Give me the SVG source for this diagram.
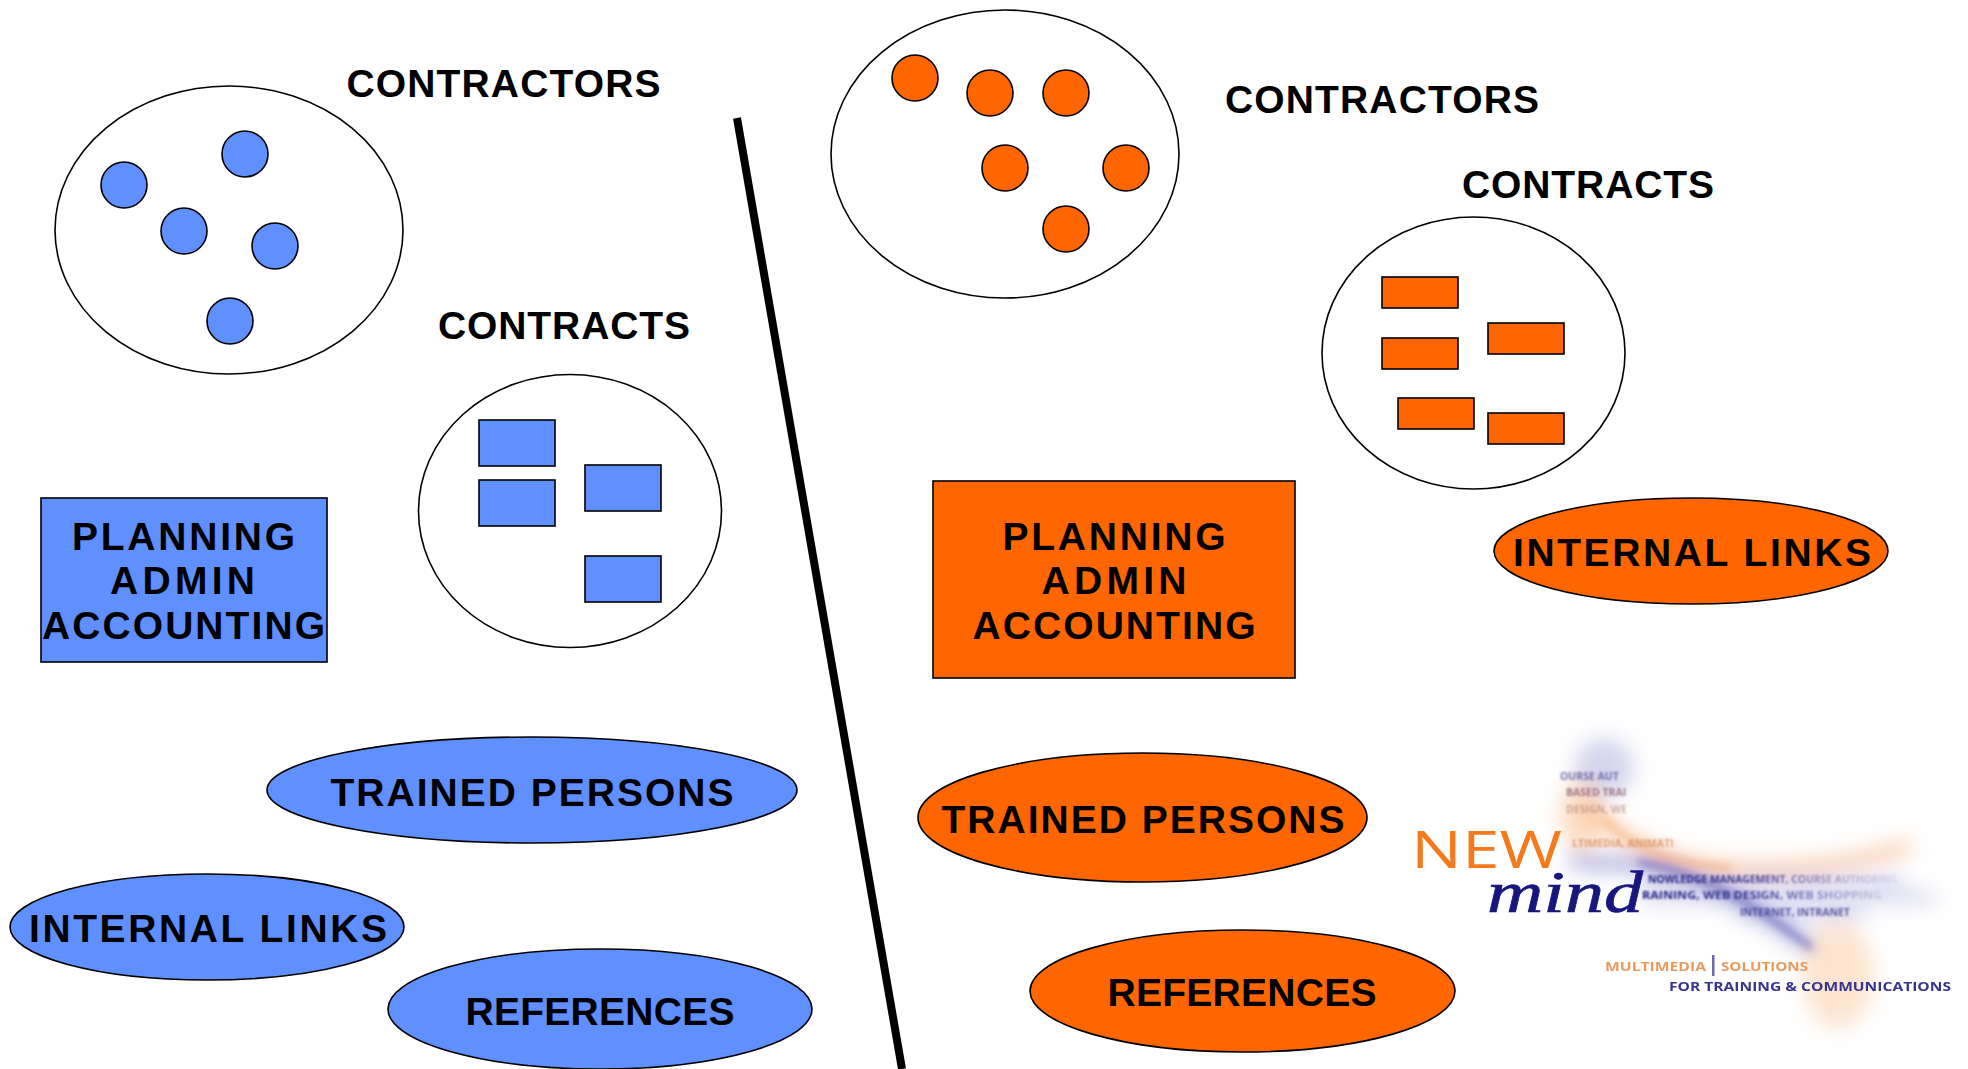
<svg xmlns="http://www.w3.org/2000/svg" width="1968" height="1069" viewBox="0 0 1968 1069">
<style>
.b{fill:#608fff;stroke:#000;stroke-width:1.6}
.o{fill:#ff6600;stroke:#000;stroke-width:1.6}
.w{fill:#fff;stroke:#000;stroke-width:1.6}
.t{font-family:"Liberation Sans",Arial,sans-serif;font-weight:700;font-size:39px;fill:#000;text-anchor:middle}
.bt{font-family:"Open Sans","Liberation Sans",sans-serif;font-weight:700;font-size:10.500px}
.lg{font-family:"Open Sans","Liberation Sans",sans-serif;font-weight:700;font-size:12.500px}
</style>
<defs>
<filter id="b2" x="-30%" y="-60%" width="160%" height="220%"><feGaussianBlur stdDeviation="10"/></filter>
<filter id="b3" x="-30%" y="-60%" width="160%" height="220%"><feGaussianBlur stdDeviation="4"/></filter>
<filter id="s" x="-10%" y="-30%" width="120%" height="160%"><feGaussianBlur stdDeviation="0.7"/></filter>
<filter id="s2" x="-10%" y="-30%" width="120%" height="160%"><feGaussianBlur stdDeviation="1"/></filter>
<linearGradient id="fadeH" gradientUnits="userSpaceOnUse" x1="1640" y1="0" x2="1900" y2="0"><stop offset="0" stop-color="#1c1c80"/><stop offset=".45" stop-color="#1c1c80" stop-opacity=".8"/><stop offset="1" stop-color="#6a6ab0" stop-opacity=".12"/></linearGradient>
</defs>
<rect width="1968" height="1069" fill="#fff"/>
<g id="connectors"><line x1="737" y1="118" x2="902" y2="1069" stroke="#000" stroke-width="8"/></g>

<g id="left-contractors">
<ellipse class="w" cx="229" cy="230" rx="174" ry="144"/>
<circle class="b" cx="124" cy="185" r="23"/><circle class="b" cx="245" cy="154" r="23"/><circle class="b" cx="184" cy="231" r="23"/><circle class="b" cx="275" cy="246" r="23"/><circle class="b" cx="230" cy="321" r="23"/>
<text class="t" x="503.500" y="97" textLength="314">CONTRACTORS</text>
</g>
<g id="left-contracts">
<ellipse class="w" cx="570" cy="511" rx="151.500" ry="136.500"/>
<rect class="b" x="479" y="420" width="76" height="46"/><rect class="b" x="479" y="480" width="76" height="46"/><rect class="b" x="585" y="465" width="76" height="46"/><rect class="b" x="585" y="556" width="76" height="46"/>
<text class="t" x="564" y="339" textLength="252">CONTRACTS</text>
</g>
<g id="left-planning">
<rect class="b" x="41" y="498" width="286" height="164"/>
<text class="t" x="183.500" y="550" textLength="223">PLANNING</text><text class="t" x="182.500" y="594" textLength="145">ADMIN</text><text class="t" x="183.500" y="639" textLength="283">ACCOUNTING</text>
</g>
<g id="left-trained"><ellipse class="b" cx="532" cy="790" rx="265" ry="53"/><text class="t" x="532" y="806" textLength="403">TRAINED PERSONS</text></g>
<g id="left-internal"><ellipse class="b" cx="207" cy="927" rx="197" ry="53"/><text class="t" x="208" y="942" textLength="358">INTERNAL LINKS</text></g>
<g id="left-references"><ellipse class="b" cx="600" cy="1009" rx="212" ry="60"/><text class="t" x="600" y="1025" textLength="269">REFERENCES</text></g>

<g id="right-contractors">
<ellipse class="w" cx="1005" cy="154" rx="174" ry="144"/>
<circle class="o" cx="915" cy="78" r="23"/><circle class="o" cx="990" cy="93" r="23"/><circle class="o" cx="1066" cy="93" r="23"/><circle class="o" cx="1005" cy="168" r="23"/><circle class="o" cx="1126" cy="168" r="23"/><circle class="o" cx="1066" cy="229" r="23"/>
<text class="t" x="1382" y="113" textLength="314">CONTRACTORS</text>
</g>
<g id="right-contracts">
<ellipse class="w" cx="1473.500" cy="353" rx="151.500" ry="136"/>
<rect class="o" x="1382" y="277" width="76" height="31"/><rect class="o" x="1382" y="338" width="76" height="31"/><rect class="o" x="1488" y="323" width="76" height="31"/><rect class="o" x="1398" y="398" width="76" height="31"/><rect class="o" x="1488" y="413" width="76" height="31"/>
<text class="t" x="1588" y="198" textLength="252">CONTRACTS</text>
</g>
<g id="right-planning">
<rect class="o" x="933" y="481" width="362" height="197"/>
<text class="t" x="1114" y="550" textLength="223">PLANNING</text><text class="t" x="1114" y="594" textLength="145">ADMIN</text><text class="t" x="1114" y="639" textLength="283">ACCOUNTING</text>
</g>
<g id="right-internal"><ellipse class="o" cx="1691" cy="551" rx="197" ry="53"/><text class="t" x="1692" y="566" textLength="358">INTERNAL LINKS</text></g>
<g id="right-trained"><ellipse class="o" cx="1142.500" cy="817.500" rx="224.500" ry="64.500"/><text class="t" x="1143" y="833" textLength="403">TRAINED PERSONS</text></g>
<g id="right-references"><ellipse class="o" cx="1242.500" cy="991" rx="212.500" ry="61"/><text class="t" x="1242" y="1006" textLength="269">REFERENCES</text></g>

<g id="logo">
<g filter="url(#b2)" fill="none" stroke-linecap="round">
<ellipse cx="1604" cy="768" rx="30" ry="30" fill="#9a9ad6" fill-opacity=".42" stroke="none"/>
<ellipse cx="1582" cy="815" rx="22" ry="36" fill="#f8b27a" fill-opacity=".45" stroke="none"/>
<path d="M1590 810C1625 840 1655 860 1725 868C1790 872 1850 865 1905 848" stroke="#f59a55" stroke-width="14" stroke-opacity=".5"/>
<path d="M1575 860C1610 868 1640 858 1665 870C1710 880 1750 905 1808 945" stroke="#6565c0" stroke-width="14" stroke-opacity=".55"/>
<path d="M1645 882H1900M1645 898H1930M1740 914H1860" stroke="#a5a5dc" stroke-width="12" stroke-opacity=".45"/>
<ellipse cx="1838" cy="975" rx="36" ry="54" fill="#f9bf90" fill-opacity=".42" stroke="none"/>
</g>
<g filter="url(#b3)" fill="none" stroke-linecap="round">
<path d="M1605 820C1630 845 1665 864 1730 868" stroke="#ef8a3c" stroke-width="4" stroke-opacity=".6"/>
<path d="M1640 862C1700 872 1755 905 1810 947" stroke="#4646ac" stroke-width="6" stroke-opacity=".6"/>
</g>
<g filter="url(#s)">
<text x="1411" y="868" font-family="'Open Sans','Liberation Sans',sans-serif" font-size="52" fill="#f47a1e" textLength="151" lengthAdjust="spacingAndGlyphs">NEW</text>
<text x="1487" y="912" font-family="'Liberation Serif',serif" font-style="italic" font-size="60" fill="#15157c" stroke="#15157c" stroke-width=".7" textLength="156" lengthAdjust="spacingAndGlyphs">mind</text>
<text class="lg" x="1605" y="971" fill="#eb9a5c" textLength="101" lengthAdjust="spacingAndGlyphs">MULTIMEDIA</text>
<rect x="1712" y="955" width="2.500" height="21" fill="#6a6ab4"/>
<text class="lg" x="1721" y="971" fill="#eb9a5c" textLength="87" lengthAdjust="spacingAndGlyphs">SOLUTIONS</text>
<text class="lg" x="1669" y="991" fill="#35358f" textLength="282" lengthAdjust="spacingAndGlyphs">FOR TRAINING &amp; COMMUNICATIONS</text>
</g>
<g class="bt" filter="url(#s2)">
<text x="1560" y="780" fill="#55559f" fill-opacity=".8">OURSE AUT</text>
<text x="1566" y="796" fill="#8a5a70" fill-opacity=".8">BASED TRAI</text>
<text x="1566" y="813" fill="#b08878" fill-opacity=".65">DESIGN, WE</text>
<text x="1572" y="847" fill="#d88a55" fill-opacity=".8">LTIMEDIA, ANIMATI</text>
<text x="1648" y="883" fill="url(#fadeH)" textLength="250" lengthAdjust="spacingAndGlyphs">NOWLEDGE MANAGEMENT, COURSE AUTHORING</text>
<text x="1642" y="899" fill="url(#fadeH)" textLength="240" lengthAdjust="spacingAndGlyphs">RAINING, WEB DESIGN, WEB SHOPPING</text>
<text x="1740" y="916" fill="#2c2c88" fill-opacity=".75">INTERNET, INTRANET</text>
</g>
</g>
</svg>
